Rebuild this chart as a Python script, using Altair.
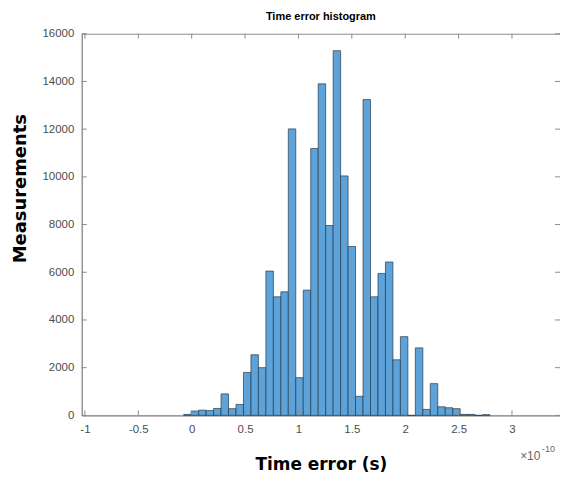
import altair as alt
import pandas as pd

# Histogram data; x in units of 1e-10 s
bin_width = 0.07
first_edge = -0.075
counts = [40, 180, 220, 200, 290, 900, 280, 460, 1800, 2540, 2000,
          6050, 4970, 5180, 12010, 1580, 5250, 11190, 13900, 7960, 15290,
          10040, 7080, 800, 13240, 4970, 5950, 6430, 2330, 3300, 0,
          2830, 250, 1330, 360, 320, 280, 40, 40, 0, 30]

x_ticks = [-1, -0.5, 0, 0.5, 1, 1.5, 2, 2.5, 3]
y_ticks = [0, 2000, 4000, 6000, 8000, 10000, 12000, 14000, 16000]

starts = [round(first_edge + i * bin_width, 4) for i in range(len(counts))]
df = pd.DataFrame({
    "start": starts,
    "end": [round(s + bin_width, 4) for s in starts],
    "count": counts,
    "base": [0] * len(counts),
})
xt = pd.DataFrame({"v": x_ticks})
yt = pd.DataFrame({"v": y_ticks})

W, H = 480, 383
xscale = alt.Scale(domain=[-1.03, 3.45], nice=False, zero=False)
yscale = alt.Scale(domain=[0, 16000], nice=False)
frame = "#8c8c8c"
label_col = "#4d4d4d"

bars = alt.Chart(df).mark_bar(
    color="#5DA3D9", stroke="#26394a", strokeWidth=0.7, opacity=1
).encode(
    x=alt.X("start:Q", scale=xscale,
            axis=alt.Axis(values=x_ticks, title="Time error (s)",
                          labelExpr="datum.value + ''")),
    x2="end:Q",
    y=alt.Y("count:Q", scale=yscale,
            axis=alt.Axis(values=y_ticks, title="Measurements", format="d",
                          titleY=155)),
    y2="base:Q",
)

tick_len = 5
xt_bot = alt.Chart(xt).mark_rule(color=frame, strokeWidth=1).encode(
    x=alt.X("v:Q", scale=xscale),
    y=alt.value(H), y2=alt.value(H - tick_len))
xt_top = alt.Chart(xt).mark_rule(color=frame, strokeWidth=1).encode(
    x=alt.X("v:Q", scale=xscale),
    y=alt.value(0), y2=alt.value(tick_len))
yt_left = alt.Chart(yt).mark_rule(color=frame, strokeWidth=1).encode(
    y=alt.Y("v:Q", scale=yscale),
    x=alt.value(0), x2=alt.value(tick_len))
yt_right = alt.Chart(yt).mark_rule(color=frame, strokeWidth=1).encode(
    y=alt.Y("v:Q", scale=yscale),
    x=alt.value(W), x2=alt.value(W - tick_len))

sci_base = alt.Chart(pd.DataFrame({"t": ["×10"]})).mark_text(
    align="left", baseline="alphabetic", fontSize=12, font="Liberation Sans",
    color="#666666"
).encode(text="t:N", x=alt.value(440), y=alt.value(428))
sci_exp = alt.Chart(pd.DataFrame({"t": ["-10"]})).mark_text(
    align="left", baseline="alphabetic", fontSize=9, font="Liberation Sans",
    color="#666666"
).encode(text="t:N", x=alt.value(462), y=alt.value(420))

chart = alt.layer(bars, xt_bot, xt_top, yt_left, yt_right, sci_base, sci_exp).properties(
    width=W, height=H,
    title=alt.TitleParams("Time error histogram", fontSize=11, font="Liberation Sans",
                          fontWeight="bold", color="black", offset=6),
    autosize=alt.AutoSizeParams(type="none"),
    padding={"left": 74, "top": 25, "right": 0, "bottom": 57},
).configure_view(
    stroke=frame, strokeWidth=1
).configure_axis(
    grid=False, ticks=False, domainColor=frame, domainWidth=1,
    labelFont="Liberation Sans", labelFontSize=11.5, labelColor=label_col,
    labelPadding=8, titleFont="DejaVu Sans", titleFontWeight="bold",
    titleColor="black",
).configure_axisX(
    titleFontSize=17, titlePadding=22
).configure_axisY(
    titleFontSize=18, titlePadding=12
)

chart.save("out.html", embed_options={"renderer": "svg", "actions": False})
